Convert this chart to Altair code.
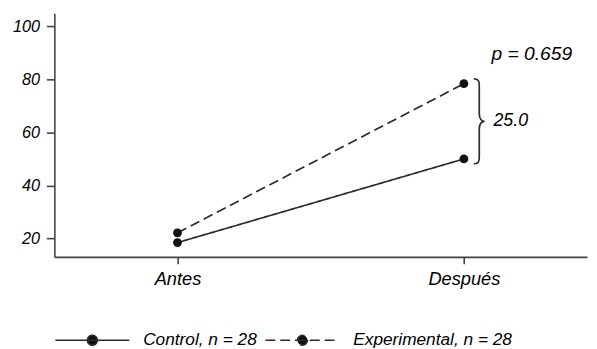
import altair as alt
import pandas as pd

times = ["Antes", "Después"]
groups = ["Control, n = 28", "Experimental, n = 28"]
control = [18.4, 50.0]
experimental = [22.1, 78.4]
p_label = "p = 0.659"
diff_label = "25.0"
y_ticks = [20, 40, 60, 80, 100]

rows = []
for g, vals in zip(groups, [control, experimental]):
    for t, v in zip(times, vals):
        rows.append({"grupo": g, "tiempo": t, "valor": v})
df = pd.DataFrame(rows)

mid = (control[1] + experimental[1]) / 2
ann = pd.DataFrame([{"tiempo": times[1], "mid": mid, "top": max(control[1], experimental[1]),
                     "p": p_label, "d": diff_label}])

FONT = "Liberation Sans"
INK = "#2b2b2b"
TXT = "#000000"

x = alt.X("tiempo:N", sort=times, title=None,
          scale=alt.Scale(type="point", padding=0.43),
          axis=alt.Axis(labelAngle=0, tickSize=7, labelPadding=6, labelFontSize=18.5))
y = alt.Y("valor:Q", title=None,
          scale=alt.Scale(domain=[13, 105], nice=False, zero=False),
          axis=alt.Axis(values=y_ticks, tickSize=8, labelPadding=7, labelFontSize=16.5))

brace_path = ("M-0.13,-1 C-0.02,-1 0,-0.95 0,-0.85 L0,-0.19 C0,-0.06 0.05,0 0.125,0 "
              "C0.05,0 0,0.06 0,0.19 L0,0.85 C0,0.95 -0.02,1 -0.13,1")
legend_path = ("M-1,0 L1,0 M0.133,0 A0.133,0.133 0 1,1 -0.133,0 "
               "A0.133,0.133 0 1,1 0.133,0 Z")

lines = alt.Chart(df).mark_line(color=INK, strokeWidth=1.7).encode(
    x=x, y=y,
    strokeDash=alt.StrokeDash("grupo:N", sort=groups,
        scale=alt.Scale(domain=groups, range=[[1, 0], [10, 5]]),
        legend=alt.Legend(title=None, orient="none", direction="horizontal",
                          legendX=0, legendY=293,
                          symbolType=legend_path, symbolSize=5625,
                          symbolStrokeColor=INK, symbolFillColor="#111111",
                          symbolStrokeWidth=1.7, labelOffset=13, columnPadding=4,
                          labelFontSize=17.5, labelFontStyle="italic", labelFont=FONT,
                          labelColor=TXT, labelLimit=0, padding=0)),
)
points = alt.Chart(df).mark_circle(color="#111111", size=80, opacity=1).encode(x=x, y=y)

brace = alt.Chart(ann).mark_point(shape=brace_path, size=7396, filled=False, stroke=INK,
                                  strokeWidth=1.7, opacity=1, xOffset=15.6).encode(
    x=alt.X("tiempo:N", sort=times), y=alt.Y("mid:Q"))
dtext = alt.Chart(ann).mark_text(align="left", baseline="middle", dx=30, fontSize=18,
                                 fontStyle="italic", font=FONT, color=TXT).encode(
    x=alt.X("tiempo:N", sort=times), y=alt.Y("mid:Q"), text="d:N")
ptext = alt.Chart(ann).mark_text(align="left", baseline="middle", dx=28, dy=-30, fontSize=19.5,
                                 fontStyle="italic", font=FONT, color=TXT).encode(
    x=alt.X("tiempo:N", sort=times), y=alt.Y("top:Q"), text="p:N")

chart = alt.layer(lines, points, brace, dtext, ptext).properties(
    width=540, height=247,
    autosize=alt.AutoSizeParams(type="none"),
    padding={"left": 47, "top": 3, "right": 2, "bottom": 90},
).configure_view(stroke=None).configure_axis(
    grid=False, domainColor="#444444", domainWidth=1.6, tickColor="#444444", tickWidth=1.6,
    labelFont=FONT, labelFontStyle="italic", labelColor=TXT,
)

chart.save("out.html", embed_options={"renderer": "svg", "actions": False})
